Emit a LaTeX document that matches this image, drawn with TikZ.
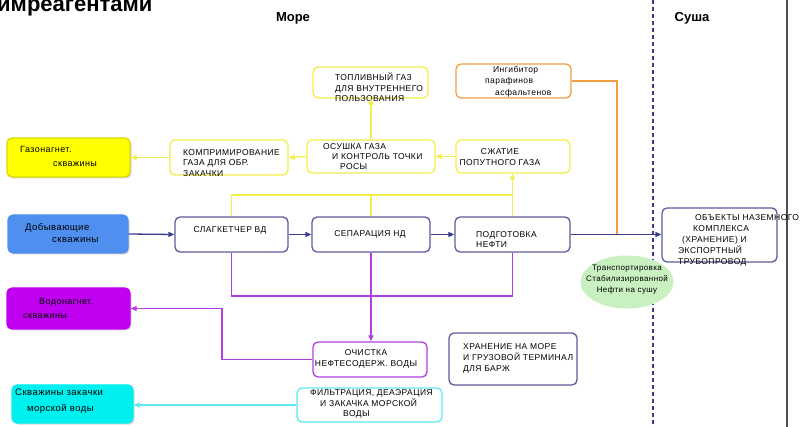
\documentclass[tikz,border=0pt]{standalone}
\usepackage{fontspec}
\setmainfont{Liberation Sans}
\newfontfamily\spcf[LetterSpace=5]{Liberation Sans}
\usetikzlibrary{arrows.meta,shapes.geometric,shadows,calc}
\definecolor{ylw}{HTML}{F4EE48}
\definecolor{ylwfill}{HTML}{FFFF00}
\definecolor{navy}{HTML}{3C3C8C}
\definecolor{navybox}{HTML}{5C5C9E}
\definecolor{prp}{HTML}{B040E0}
\definecolor{prpfill}{HTML}{C000F0}
\definecolor{cyn}{HTML}{60E8F0}
\definecolor{cynfill}{HTML}{00F0F0}
\definecolor{blu}{HTML}{4F8FF0}
\definecolor{org}{HTML}{F0A040}
\definecolor{grn}{HTML}{C8F0C0}
\newcommand\ftsz[2]{\fontsize{#1}{#2}\selectfont}
\begin{document}
\begin{tikzpicture}[x=1pt,y=-1pt,
  box/.style={draw, rounded corners=5pt, line width=1.3pt, fill=white, inner sep=0pt},
  ybox/.style={box, draw=ylw},
  nbox/.style={box, draw=navybox},
  pbox/.style={box, draw=prp},
  cbox/.style={box, draw=cyn},
  obox/.style={box, draw=org},
  fbox/.style={box, drop shadow={shadow xshift=1.5pt, shadow yshift=-1.5pt, opacity=0.3}},
  txt/.style={font=\spcf\ftsz{8.5}{10.5}, align=left, inner sep=0pt, anchor=west, text=black},
  ctxt/.style={txt, anchor=center, align=center},
  conn/.style={line width=1.3pt},
  arr/.style={conn, -{Triangle[length=6pt,width=5pt]}},
]
\useasboundingbox (0,0) rectangle (803,427);
\fill[white] (0,0) rectangle (803,427);

% headings and separators
\node[anchor=base west, inner sep=0pt, font=\bfseries\ftsz{22}{24}] (title) at (-3,12) {имреагентами};
\node[inner sep=0pt, font=\bfseries\ftsz{13}{15}] (sea) at (293,18) {Море};
\node[inner sep=0pt, font=\bfseries\ftsz{13}{15}] (land) at (692,18) {Суша};
\coordinate (dtop) at (653,0);
\coordinate (dbot) at (653,427);
\draw[navy, line width=1.2pt, dash pattern=on 4pt off 3pt] (dtop) -- (dbot);
\coordinate (rtop) at (787,0);
\coordinate (rbot) at (787,427);
\draw[black!70, line width=1.2pt] (rtop) -- (rbot);

% boxes
\node[ybox, minimum width=115pt, minimum height=31pt] (top) at (370.5,82.5) {};
\node[obox, minimum width=115pt, minimum height=34pt] (inh) at (513.5,81) {};
\node[fbox, draw=ylwfill!85!black, fill=ylwfill, minimum width=123pt, minimum height=39pt] (gaz) at (68.5,157.5) {};
\node[ybox, minimum width=118pt, minimum height=35pt] (komp) at (229,157.5) {};
\node[ybox, minimum width=128pt, minimum height=33pt] (osush) at (371,156.5) {};
\node[ybox, minimum width=114pt, minimum height=33pt] (szh) at (513,156.5) {};
\node[fbox, draw=blu, fill=blu, minimum width=120pt, minimum height=38pt] (dob) at (68,234) {};
\node[nbox, minimum width=113pt, minimum height=35pt] (slag) at (231.5,234.5) {};
\node[nbox, minimum width=118pt, minimum height=35pt] (sep) at (371,234.5) {};
\node[nbox, minimum width=115pt, minimum height=35pt] (podg) at (512.5,234.5) {};
\node[nbox, minimum width=115pt, minimum height=54pt] (obj) at (719.5,235) {};
\node[ellipse, fill=grn, minimum width=93pt, minimum height=53pt, inner sep=0pt] (ell) at (627,282) {};
\node[fbox, draw=prpfill, fill=prpfill, minimum width=123pt, minimum height=41pt] (vodo) at (68.5,308.5) {};
\node[pbox, minimum width=114pt, minimum height=35pt] (ochist) at (370,359.5) {};
\node[nbox, minimum width=128pt, minimum height=52pt] (hran) at (513,359) {};
\node[cbox, minimum width=145pt, minimum height=34pt] (filt) at (369.5,405) {};
\node[fbox, draw=cynfill, fill=cynfill, minimum width=121pt, minimum height=38pt] (skv) at (72.5,404) {};

% texts
\node[txt] (topT) at (335,87.5) {ТОПЛИВНЫЙ ГАЗ\\ДЛЯ ВНУТРЕННЕГО\\ПОЛЬЗОВАНИЯ};
\node[txt, font=\spcf\ftsz{8.5}{11.5}] (inhT) at (485,81.5) {\hspace*{8pt}Ингибитор\\парафинов\\\hspace*{10pt}асфальтенов};
\node[txt, font=\spcf\ftsz{9}{14}] (gazT) at (20,156) {Газонагнет.\\\hspace*{33pt}скважины};
\node[txt] (kompT) at (183,163) {КОМПРИМИРОВАНИЕ\\ГАЗА ДЛЯ ОБР.\\ЗАКАЧКИ};
\node[txt, font=\spcf\ftsz{8.5}{10}] (osushT) at (323,157) {ОСУШКА ГАЗА\\\hspace*{9pt}И КОНТРОЛЬ ТОЧКИ\\\hspace*{17pt}РОСЫ};
\node[ctxt, font=\spcf\ftsz{8.5}{11}] (szhT) at (500,157.5) {СЖАТИЕ\\ПОПУТНОГО ГАЗА};
\node[txt, font=\spcf\ftsz{9.5}{12}] (dobT) at (25,233) {Добывающие\\\hspace*{27pt}скважины};
\node[ctxt] (slagT) at (230,230) {СЛАГКЕТЧЕР ВД};
\node[ctxt] (sepT) at (370,234) {СЕПАРАЦИЯ НД};
\node[txt, font=\spcf\ftsz{8.5}{9.5}] (podgT) at (476,239.5) {ПОДГОТОВКА\\НЕФТИ};
\node[txt, font=\spcf\ftsz{8.5}{11}] (objT) at (678,240) {\hspace*{17pt}ОБЪЕКТЫ НАЗЕМНОГО\\\hspace*{15pt}КОМПЛЕКСА\\\hspace*{4pt}(ХРАНЕНИЕ) И\\ЭКСПОРТНЫЙ\\ТРУБОПРОВОД};
\node[ctxt, font=\spcf\ftsz{8}{11}] (ellT) at (627,280) {Транспортировка\\Стабилизированной\\Нефти на сушу};
\node[txt, font=\spcf\ftsz{9}{14}] (vodoT) at (23,308) {\hspace*{16pt}Водонагнет.\\скважины};
\node[ctxt, font=\spcf\ftsz{8.5}{11}] (ochistT) at (366,358.5) {ОЧИСТКА\\НЕФТЕСОДЕРЖ. ВОДЫ};
\node[txt, font=\spcf\ftsz{8.5}{11}] (hranT) at (463,358) {ХРАНЕНИЕ НА МОРЕ\\И ГРУЗОВОЙ ТЕРМИНАЛ\\ДЛЯ БАРЖ};
\node[txt, font=\spcf\ftsz{8.5}{10.5}] (filtT) at (310,404) {ФИЛЬТРАЦИЯ, ДЕАЭРАЦИЯ\\\hspace*{10pt}И ЗАКАЧКА МОРСКОЙ\\\hspace*{33pt}ВОДЫ};
\node[txt, font=\spcf\ftsz{9.5}{16}] (skvT) at (15,401) {Скважины закачки\\\hspace*{12pt}морской воды};

% yellow connectors
\coordinate (ybus) at (0,195);
\draw[arr, ylw] (szh.west) -- (osush.east);
\draw[arr, ylw] (osush.west) -- (komp.east);
\draw[arr, ylw] (komp.west) -- (gaz.east);
\draw[arr, ylw] (osush.north) -- (osush.north |- top.south);
\draw[conn, ylw] (slag.north) -- (slag.north |- ybus) -- (podg.north |- ybus);
\draw[conn, ylw] (sep.north) -- (sep.north |- ybus);
\draw[arr, ylw] (podg.north) -- (podg.north |- szh.south);

% navy connectors
\draw[arr, navy] (dob.east) -- (slag.west);
\draw[arr, navy] (slag.east) -- (sep.west);
\draw[arr, navy] (sep.east) -- (podg.west);
\draw[arr, navy] (podg.east) -- (podg.east -| obj.west);

% orange connector
\coordinate (oturn) at (617,0);
\draw[conn, org] (inh.east) -| (oturn |- podg.east);

% purple connectors
\coordinate (pbus) at (0,296);
\coordinate (pturn) at (222,0);
\draw[conn, prp] (slag.south) -- (slag.south |- pbus) -- (podg.south |- pbus) -- (podg.south);
\draw[arr, prp] (sep.south) -- (sep.south |- ochist.north);
\draw[arr, prp] (ochist.west) -| (pturn |- vodo.east) -- (vodo.east);

% cyan connector
\draw[arr, cyn] (filt.west) -- (filt.west -| skv.east);
\end{tikzpicture}
\end{document}
